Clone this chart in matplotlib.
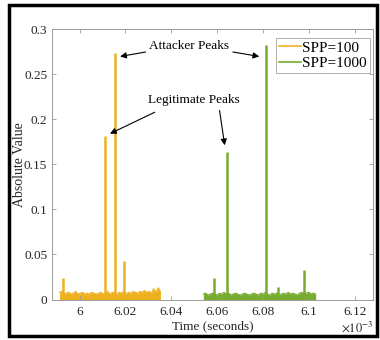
import numpy as np
import matplotlib
matplotlib.use("Agg")
import matplotlib.pyplot as plt
from matplotlib.lines import Line2D
from matplotlib.patches import Rectangle

plt.rcParams["font.family"] = ["Liberation Serif", "DejaVu Serif"]
plt.rcParams["mathtext.fontset"] = "stix"

# Time axis in units of 1e-3 s
orange_start, orange_step = 5.9913, 0.001
orange_env = [0.008, 0.009, 0.006, 0.007, 0.008, 0.006, 0.007, 0.009, 0.006, 0.007,
              0.008, 0.006, 0.007, 0.006, 0.008, 0.007, 0.006, 0.007, 0.008, 0.006,
              0.007, 0.009, 0.006, 0.008, 0.007, 0.006, 0.008, 0.007, 0.009, 0.006,
              0.008, 0.007, 0.009, 0.008, 0.007, 0.009, 0.008, 0.010, 0.008, 0.009,
              0.007, 0.012, 0.008, 0.013, 0.009]
green_start, green_step = 6.0540, 0.001
green_env = [0.006, 0.007, 0.005, 0.006, 0.007, 0.006, 0.005, 0.007, 0.006, 0.008,
             0.006, 0.007, 0.005, 0.006, 0.007, 0.006, 0.005, 0.006, 0.007, 0.006,
             0.005, 0.006, 0.007, 0.006, 0.005, 0.007, 0.006, 0.008, 0.006, 0.005,
             0.007, 0.006, 0.007, 0.005, 0.006, 0.007, 0.006, 0.008, 0.006, 0.007,
             0.006, 0.005, 0.007, 0.008, 0.006, 0.007, 0.008, 0.006, 0.007, 0.006]

orange_peak_t = [5.9930, 6.0113, 6.0154, 6.0194]
orange_peak_v = [0.024, 0.181, 0.273, 0.043]
green_peak_t = [6.0586, 6.0643, 6.0812, 6.0864, 6.0977]
green_peak_v = [0.024, 0.164, 0.282, 0.014, 0.033]

series_labels = ["SPP=100", "SPP=1000"]
xticks = [6.00, 6.02, 6.04, 6.06, 6.08, 6.10, 6.12]
xtick_labels = ["6", "6.02", "6.04", "6.06", "6.08", "6.1", "6.12"]
yticks = [0, 0.05, 0.1, 0.15, 0.2, 0.25, 0.3]
ytick_labels = ["0", "0.05", "0.1", "0.15", "0.2", "0.25", "0.3"]

ORANGE = "#EDB120"
GREEN = "#77AC30"
SPINE = "#9a9a9a"
TXT = "#262626"

fig = plt.figure(figsize=(3.8, 3.4), dpi=100)
ax = fig.add_axes([52 / 380, 1 - 299.5 / 340, (373 - 52) / 380, (299.5 - 29) / 340])

for start, step, env, pt, pv, col in [
    (orange_start, orange_step, orange_env, orange_peak_t, orange_peak_v, ORANGE),
    (green_start, green_step, green_env, green_peak_t, green_peak_v, GREEN),
]:
    t = start + step * np.arange(len(env))
    ax.fill_between(t, 0, env, color=col, lw=0)
    ax.plot(t, env, color=col, lw=0.8)
    ax.vlines(pt, 0, pv, color=col, lw=1.8)

ax.set_xlim(5.988, 6.128)
ax.set_ylim(0, 0.3)
ax.set_xticks(xticks)
ax.set_xticklabels(xtick_labels)
ax.set_yticks(yticks)
ax.set_yticklabels(ytick_labels)
ax.tick_params(direction="in", length=3, width=0.6, color=SPINE, labelsize=9.5,
               labelcolor=TXT, top=True, right=True)
ax.tick_params(axis="y", pad=3.5)
ax.tick_params(axis="x", pad=5)
for s in ax.spines.values():
    s.set_color(SPINE)
    s.set_linewidth(0.7)

ax.set_xlabel("Time (seconds)", fontsize=9.5, color=TXT, labelpad=1)
ax.set_ylabel("Absolute Value", fontsize=10, color=TXT)
ax.yaxis.set_label_coords(-0.082, 0.5)
ax.text(373 / 380, 1 - 320 / 340, r"$\times10^{-3}$", transform=fig.transFigure,
        fontsize=9, color=TXT, ha="right", va="top")

handles = [Line2D([], [], color=ORANGE, lw=1.2), Line2D([], [], color=GREEN, lw=1.2)]
leg = ax.legend(handles, series_labels, loc="upper right",
                bbox_to_anchor=(0.9907, 0.9667), borderaxespad=0,
                fontsize=11, frameon=True, fancybox=False, edgecolor=SPINE,
                handlelength=1.45, handletextpad=0.1, borderpad=0.2,
                labelspacing=0.1)
leg.get_frame().set_linewidth(0.7)

arrow = dict(arrowstyle="-|>", color="black", lw=0.8, mutation_scale=9)
ax.text(6.0478, 0.2815, "Attacker Peaks", fontsize=9.5, ha="center", va="center")
ax.annotate("", xy=(6.0165, 0.269), xytext=(6.0300, 0.275), arrowprops=arrow)
ax.annotate("", xy=(6.0796, 0.269), xytext=(6.0657, 0.275), arrowprops=arrow)
ax.text(6.0500, 0.2214, "Legitimate Peaks", fontsize=9.5, ha="center", va="center")
ax.annotate("", xy=(6.0122, 0.1826), xytext=(6.0339, 0.2090), arrowprops=arrow)
ax.annotate("", xy=(6.0635, 0.1680), xytext=(6.0609, 0.2126), arrowprops=arrow)

# outer black frame
fig.patches.append(Rectangle((9 / 380, 4 / 340), (377 - 9) / 380, (335 - 4) / 340,
                             transform=fig.transFigure, fill=False,
                             edgecolor="black", lw=2.5))

fig.savefig("out.png", dpi=100)
